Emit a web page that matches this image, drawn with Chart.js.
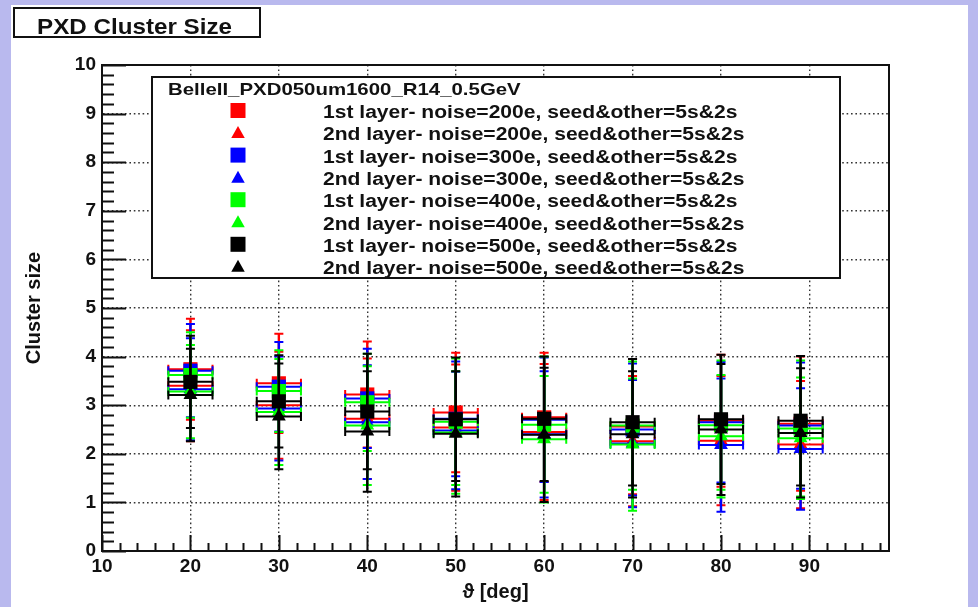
<!DOCTYPE html>
<html>
<head>
<meta charset="utf-8">
<script src="https://cdn.jsdelivr.net/npm/chart.js@4.4.1/dist/chart.umd.min.js"></script>
<style>
html,body{margin:0;padding:0;}
body{width:978px;height:607px;background:#b9b9ee;position:relative;overflow:hidden;}
#panel{position:absolute;left:11px;top:5px;width:957px;height:602px;background:#ffffff;}
#c{position:absolute;left:0;top:0;}
</style>
</head>
<body>
<div id="panel"></div>
<canvas id="c" width="978" height="607"></canvas>
<script>
// ---------------- data ----------------
const angles = [20, 30, 40, 50, 60, 70, 80, 89];
const angleHalfWidth = [2.5, 2.5, 2.5, 2.5, 2.5, 2.5, 2.5, 2.5];

const xTickValues = [10, 20, 30, 40, 50, 60, 70, 80, 90];
const yTickValues = [0, 1, 2, 3, 4, 5, 6, 7, 8, 9, 10];

const legendTitle = 'BelleII_PXD050um1600_R14_0.5GeV';
const seriesLabels = [
  '1st layer- noise=200e, seed&other=5s&2s',
  '2nd layer- noise=200e, seed&other=5s&2s',
  '1st layer- noise=300e, seed&other=5s&2s',
  '2nd layer- noise=300e, seed&other=5s&2s',
  '1st layer- noise=400e, seed&other=5s&2s',
  '2nd layer- noise=400e, seed&other=5s&2s',
  '1st layer- noise=500e, seed&other=5s&2s',
  '2nd layer- noise=500e, seed&other=5s&2s'
];
const seriesColors = ['#ff0000', '#ff0000', '#0000ff', '#0000ff', '#00ff00', '#00ff00', '#000000', '#000000'];
const seriesMarkers = ['rect', 'triangle', 'rect', 'triangle', 'rect', 'triangle', 'rect', 'triangle'];

// mean cluster size
const layer1_200 = [3.74, 3.45, 3.22, 2.85, 2.75, 2.56, 2.68, 2.62];
const layer2_200 = [3.40, 3.00, 2.72, 2.54, 2.45, 2.26, 2.27, 2.19];
const layer1_300 = [3.71, 3.38, 3.14, 2.72, 2.70, 2.50, 2.65, 2.58];
const layer2_300 = [3.33, 2.93, 2.65, 2.48, 2.40, 2.21, 2.18, 2.10];
const layer1_400 = [3.62, 3.29, 3.06, 2.66, 2.60, 2.58, 2.59, 2.52];
const layer2_400 = [3.28, 2.86, 2.58, 2.44, 2.30, 2.19, 2.36, 2.32];
const layer1_500 = [3.48, 3.08, 2.87, 2.71, 2.72, 2.65, 2.71, 2.68];
const layer2_500 = [3.21, 2.77, 2.46, 2.41, 2.39, 2.40, 2.50, 2.43];

// spread (vertical error bar half-length)
const err1_200 = [1.04, 1.02, 1.09, 1.23, 1.33, 1.39, 1.36, 1.38];
const err2_200 = [1.14, 1.10, 1.24, 1.30, 1.40, 1.34, 1.33, 1.31];
const err1_300 = [0.96, 0.92, 1.02, 1.18, 1.28, 1.36, 1.24, 1.30];
const err2_300 = [1.05, 1.07, 1.17, 1.21, 1.30, 1.31, 1.37, 1.25];
const err1_400 = [0.88, 0.84, 1.00, 1.30, 1.40, 1.32, 1.33, 1.40];
const err2_400 = [0.96, 1.09, 1.22, 1.26, 1.30, 1.36, 1.26, 1.25];
const err1_500 = [0.95, 0.95, 1.19, 1.27, 1.28, 1.30, 1.33, 1.33];
const err2_500 = [0.95, 1.09, 1.24, 1.29, 1.38, 1.30, 1.35, 1.33];

const seriesValues = [layer1_200, layer2_200, layer1_300, layer2_300, layer1_400, layer2_400, layer1_500, layer2_500];
const seriesErrors = [err1_200, err2_200, err1_300, err2_300, err1_400, err2_400, err1_500, err2_500];

// ---------------- chart ----------------
const FONT = "'Liberation Sans', 'DejaVu Sans', Arial, sans-serif";

const datasets = seriesLabels.map((label, s) => ({
  label: label,
  data: angles.map((a, i) => ({x: a, y: seriesValues[s][i], ey: seriesErrors[s][i], ex: angleHalfWidth[i]})),
  pointStyle: seriesMarkers[s],
  pointRadius: seriesMarkers[s] === 'rect' ? 10 : 8,
  pointBackgroundColor: seriesColors[s],
  pointBorderColor: seriesColors[s],
  pointBorderWidth: 0,
  borderColor: seriesColors[s],
  backgroundColor: seriesColors[s],
  showLine: false,
  order: seriesLabels.length - 1 - s
}));

function stretchedText(ctx, text, x, y, font, sx) {
  ctx.save();
  ctx.font = font;
  ctx.textBaseline = 'alphabetic';
  ctx.textAlign = 'left';
  ctx.translate(x, y);
  ctx.scale(sx, 1);
  ctx.fillText(text, 0, 0);
  ctx.restore();
}

function drawMarker(ctx, style, x, y, color, size) {
  ctx.save();
  ctx.fillStyle = color;
  if (style === 'rect') {
    ctx.fillRect(x - size / 2, y - size / 2, size, size);
  } else {
    ctx.beginPath();
    ctx.moveTo(x, y - size * 0.45);
    ctx.lineTo(x + size * 0.45, y + size * 0.35);
    ctx.lineTo(x - size * 0.45, y + size * 0.35);
    ctx.closePath();
    ctx.fill();
  }
  ctx.restore();
}

const errorBars = {
  id: 'errorBars',
  beforeDatasetDraw(chart, args) {
    const ds = chart.data.datasets[args.index];
    const meta = args.meta;
    const xs = chart.scales.x, ys = chart.scales.y;
    const ctx = chart.ctx;
    const c = 4.5;
    ctx.save();
    ctx.strokeStyle = ds.borderColor;
    meta.data.forEach((pt, i) => {
      const raw = ds.data[i];
      const x = pt.x, y = pt.y;
      const yt = ys.getPixelForValue(raw.y + raw.ey);
      const yb = ys.getPixelForValue(raw.y - raw.ey);
      const xl = xs.getPixelForValue(raw.x - raw.ex);
      const xr = xs.getPixelForValue(raw.x + raw.ex);
      ctx.lineWidth = 2.4;
      ctx.beginPath();
      ctx.moveTo(x, yt); ctx.lineTo(x, yb);
      ctx.stroke();
      ctx.lineWidth = 2;
      ctx.beginPath();
      ctx.moveTo(xl, y); ctx.lineTo(xr, y);
      ctx.moveTo(x - c, yt); ctx.lineTo(x + c, yt);
      ctx.moveTo(x - c, yb); ctx.lineTo(x + c, yb);
      ctx.moveTo(xl, y - c); ctx.lineTo(xl, y + c);
      ctx.moveTo(xr, y - c); ctx.lineTo(xr, y + c);
      ctx.stroke();
    });
    ctx.restore();
  }
};

const rootTicks = {
  id: 'rootTicks',
  beforeDatasetsDraw(chart) {
    const ctx = chart.ctx;
    const xs = chart.scales.x, ys = chart.scales.y;
    const a = chart.chartArea;
    ctx.save();
    ctx.strokeStyle = '#111';
    ctx.lineWidth = 2;
    ctx.beginPath();
    for (let k = 0; k <= 44; k++) {
      const v = 10 + k * 2;
      if (v > xs.max) break;
      const px = Math.round(xs.getPixelForValue(v)) + 0.5;
      const len = (v % 10 === 0) ? 16 : 8;
      ctx.moveTo(px, a.bottom);
      ctx.lineTo(px, a.bottom - len);
    }
    for (let k = 0; k <= 50; k++) {
      const v = k * 0.2;
      const py = Math.round(ys.getPixelForValue(v)) + 0.5;
      const len = (k % 5 === 0) ? 24 : 12;
      ctx.moveTo(a.left, py);
      ctx.lineTo(a.left + len, py);
    }
    ctx.stroke();
    ctx.restore();
  }
};

const overlay = {
  id: 'overlay',
  afterDraw(chart) {
    const ctx = chart.ctx;
    const a = chart.chartArea;
    // frame
    ctx.save();
    ctx.strokeStyle = '#111';
    ctx.lineWidth = 2;
    ctx.strokeRect(a.left, a.top, a.right - a.left, a.bottom - a.top);
    ctx.restore();

    // legend box
    ctx.save();
    ctx.fillStyle = '#ffffff';
    ctx.fillRect(152, 77, 688, 201);
    ctx.strokeStyle = '#111';
    ctx.lineWidth = 2;
    ctx.strokeRect(152, 77, 688, 201);
    ctx.fillStyle = '#111';
    stretchedText(ctx, legendTitle, 168, 95, 'bold 17px ' + FONT, 1.2);
    chart.data.datasets.forEach((ds, i) => {
      const cy = 110.5 + i * 22.3;
      drawMarker(ctx, ds.pointStyle, 238, cy, ds.pointBackgroundColor, 15);
      ctx.fillStyle = '#111';
      stretchedText(ctx, ds.label, 323, cy + 7.5, 'bold 18px ' + FONT, 1.17);
    });
    ctx.restore();

    // title box
    ctx.save();
    ctx.strokeStyle = '#111';
    ctx.lineWidth = 2;
    ctx.strokeRect(14, 8, 246, 29);
    ctx.fillStyle = '#111';
    stretchedText(ctx, 'PXD Cluster Size', 37, 34, 'bold 22px ' + FONT, 1.1);
    ctx.restore();
  }
};

new Chart(document.getElementById('c'), {
  type: 'scatter',
  data: {datasets: datasets},
  options: {
    responsive: false,
    animation: false,
    devicePixelRatio: 1,
    layout: {padding: {left: 0, right: 89, top: 65, bottom: 0}},
    plugins: {legend: {display: false}, tooltip: {enabled: false}, title: {display: false}},
    scales: {
      x: {
        type: 'linear',
        min: 10,
        max: 99,
        afterBuildTicks: (scale) => { scale.ticks = xTickValues.map(v => ({value: v})); },
        afterFit: (scale) => { scale.height = 56; },
        grid: {
          drawTicks: false,
          lineWidth: 1.4,
          color: (c) => (c.tick && c.tick.value > 10 && c.tick.value < 99) ? '#333' : 'rgba(0,0,0,0)'
        },
        border: {display: true, color: '#111', width: 2, dash: [1.6, 2.8]},
        ticks: {
          autoSkip: false,
          maxRotation: 0,
          padding: 4,
          color: '#111',
          font: {family: FONT, weight: 'bold', size: 19}
        },
        title: {
          display: true,
          text: 'ϑ [deg]',
          color: '#111',
          font: {family: FONT, weight: 'bold', size: 20},
          padding: {top: 0, bottom: 3}
        }
      },
      y: {
        type: 'linear',
        min: 0,
        max: 10,
        afterBuildTicks: (scale) => { scale.ticks = yTickValues.map(v => ({value: v})); },
        afterFit: (scale) => { scale.width = 102; },
        grid: {
          drawTicks: false,
          lineWidth: 1.4,
          color: (c) => (c.tick && c.tick.value > 0 && c.tick.value < 10) ? '#333' : 'rgba(0,0,0,0)'
        },
        border: {display: true, color: '#111', width: 2, dash: [1.6, 2.8]},
        ticks: {
          padding: 6,
          color: '#111',
          font: {family: FONT, weight: 'bold', size: 19}
        },
        title: {
          display: true,
          text: 'Cluster size',
          color: '#111',
          font: {family: FONT, weight: 'bold', size: 20},
          padding: {top: 22, bottom: 0}
        }
      }
    }
  },
  plugins: [errorBars, rootTicks, overlay]
});
</script>
</body>
</html>
